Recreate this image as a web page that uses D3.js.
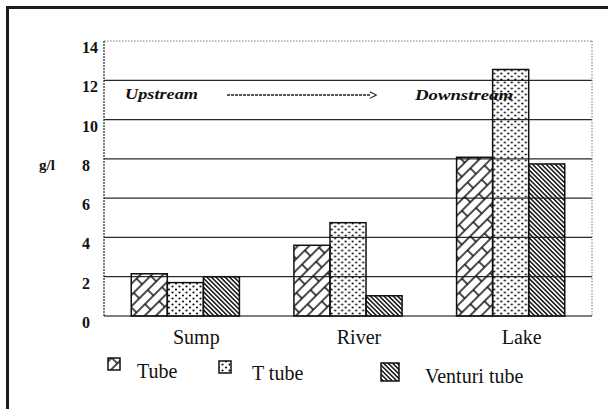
<!DOCTYPE html>
<html>
<head>
<meta charset="utf-8">
<script src="https://cdn.jsdelivr.net/npm/d3@7"></script>
<style>
  html, body { margin: 0; padding: 0; background: #fff; }
  svg { display: block; }
  text { font-family: "Liberation Serif", "Times New Roman", serif; fill: #111; }
  text.bold { font-weight: bold; }
</style>
</head>
<body>
<svg id="chart" width="608" height="409"></svg>
<script>
// Sediment concentration (g/l) by sampling site and sampler type
const categories = ["Sump", "River", "Lake"];
const seriesNames = ["Tube", "T tube", "Venturi tube"];
const tubeValues = [2.15, 3.6, 8.08];
const tTubeValues = [1.7, 4.75, 12.55];
const venturiValues = [2.0, 1.03, 7.74];
const yTicks = [0, 2, 4, 6, 8, 10, 12, 14];
const yLabel = "g/l";

const seriesValues = [tubeValues, tTubeValues, venturiValues];
const patternIds = ["pat-brick", "pat-dots", "pat-hatch"];

const svg = d3.select("#chart");
const plot = { left: 104, right: 592, top: 41, bottom: 316 };

// Fill patterns
const defs = svg.append("defs");
defs.append("pattern")
  .attr("id", "pat-brick").attr("patternUnits", "userSpaceOnUse")
  .attr("width", 24).attr("height", 16)
  .attr("patternTransform", "rotate(-45)")
  .append("path")
  .attr("d", "M0,4H24M0,12H24M6,4V12M18,12V16M18,0V4")
  .attr("stroke", "#111").attr("stroke-width", 1.5).attr("fill", "none");

const dots = defs.append("pattern")
  .attr("id", "pat-dots").attr("patternUnits", "userSpaceOnUse")
  .attr("width", 7).attr("height", 6);
dots.append("circle").attr("cx", 2).attr("cy", 1.5).attr("r", 1.1).attr("fill", "#111");
dots.append("circle").attr("cx", 5.5).attr("cy", 4.5).attr("r", 1.1).attr("fill", "#111");

defs.append("pattern")
  .attr("id", "pat-hatch").attr("patternUnits", "userSpaceOnUse")
  .attr("width", 3.2).attr("height", 10)
  .attr("patternTransform", "rotate(-45)")
  .append("line")
  .attr("x1", 1.6).attr("x2", 1.6).attr("y1", 0).attr("y2", 10)
  .attr("stroke", "#111").attr("stroke-width", 1.5);

// Outer frame (top and left edges)
svg.append("path")
  .attr("d", "M7.5,409V7.5H608")
  .attr("fill", "none").attr("stroke", "#1c1c1c").attr("stroke-width", 3);

// Scales
const y = d3.scaleLinear().domain([0, 14]).range([plot.bottom, plot.top]);
const x0 = d3.scaleBand().domain(categories).range([plot.left, plot.right]).padding(0);
const groupWidth = x0.bandwidth() * 0.665;
const x1 = d3.scaleBand().domain(seriesNames)
  .range([(x0.bandwidth() - groupWidth) / 2, (x0.bandwidth() + groupWidth) / 2]).padding(0);

// Gridlines
svg.append("g").selectAll("line")
  .data(yTicks.filter(t => t > 0 && t < 14))
  .join("line")
  .attr("x1", plot.left).attr("x2", plot.right)
  .attr("y1", d => y(d)).attr("y2", d => y(d))
  .attr("stroke", "#2a2a2a").attr("stroke-width", 1.2);

// Plot border: dotted top and right, solid baseline, dotted left axis
svg.append("line")
  .attr("x1", plot.left).attr("x2", plot.right).attr("y1", y(14)).attr("y2", y(14))
  .attr("stroke", "#777").attr("stroke-width", 1).attr("stroke-dasharray", "1.5,1.5");
svg.append("line")
  .attr("x1", plot.right).attr("x2", plot.right).attr("y1", y(14)).attr("y2", y(0))
  .attr("stroke", "#777").attr("stroke-width", 1).attr("stroke-dasharray", "1.5,1.5");
svg.append("line")
  .attr("x1", plot.left).attr("x2", plot.right).attr("y1", y(0)).attr("y2", y(0))
  .attr("stroke", "#555").attr("stroke-width", 1.5);
svg.append("line")
  .attr("x1", plot.left).attr("x2", plot.left).attr("y1", y(14)).attr("y2", y(0))
  .attr("stroke", "#333").attr("stroke-width", 1.3).attr("stroke-dasharray", "2,1");

// Y tick labels (sit just below each gridline)
svg.append("g").selectAll("text")
  .data(yTicks)
  .join("text")
  .attr("class", "bold")
  .attr("x", 82).attr("y", d => y(d) + 12)
  .attr("font-size", 16)
  .text(d => d);

// Y axis title
svg.append("text")
  .attr("class", "bold")
  .attr("x", 39).attr("y", 170)
  .attr("font-size", 15)
  .text(yLabel);

// Bars
const groups = svg.append("g").selectAll("g")
  .data(categories)
  .join("g")
  .attr("transform", d => `translate(${x0(d)},0)`);

groups.selectAll("rect")
  .data((c, ci) => seriesNames.map((s, si) => ({ s, si, v: seriesValues[si][ci] })))
  .join("rect")
  .attr("x", d => x1(d.s))
  .attr("width", x1.bandwidth())
  .attr("y", d => y(d.v))
  .attr("height", d => y(0) - y(d.v))
  .attr("fill", d => `url(#${patternIds[d.si]})`)
  .attr("stroke", "#111").attr("stroke-width", 1.5);

// Category labels
svg.append("g").selectAll("text")
  .data(categories)
  .join("text")
  .attr("x", d => x0(d) + x0.bandwidth() / 2 + 11)
  .attr("y", 344)
  .attr("text-anchor", "middle")
  .attr("font-size", 20)
  .text(d => d);

// Flow direction annotation
svg.append("text")
  .attr("class", "bold")
  .attr("x", 125).attr("y", 99)
  .attr("font-size", 15).attr("font-style", "italic")
  .attr("textLength", 73).attr("lengthAdjust", "spacingAndGlyphs")
  .text("Upstream");
svg.append("line")
  .attr("x1", 227).attr("x2", 371).attr("y1", 95).attr("y2", 95)
  .attr("stroke", "#222").attr("stroke-width", 1.6).attr("stroke-dasharray", "3,1");
svg.append("text")
  .attr("class", "bold")
  .attr("x", 369).attr("y", 100)
  .attr("font-size", 15)
  .text(">");
svg.append("text")
  .attr("class", "bold")
  .attr("x", 415).attr("y", 100)
  .attr("font-size", 15).attr("font-style", "italic")
  .attr("textLength", 98).attr("lengthAdjust", "spacingAndGlyphs")
  .text("Downstream");

// Legend
const legendItems = [
  { name: seriesNames[0], pat: patternIds[0], sx: 108, sy: 358, size: 12, tx: 137, ty: 378 },
  { name: seriesNames[1], pat: patternIds[1], sx: 219, sy: 361, size: 12, tx: 252, ty: 380 },
  { name: seriesNames[2], pat: patternIds[2], sx: 381, sy: 363, size: 18, tx: 425, ty: 383 }
];
const legend = svg.append("g").selectAll("g").data(legendItems).join("g");
legend.append("rect")
  .attr("x", d => d.sx).attr("y", d => d.sy)
  .attr("width", d => d.size).attr("height", d => d.size)
  .attr("fill", d => `url(#${d.pat})`)
  .attr("stroke", "#111").attr("stroke-width", 1.5);
legend.append("text")
  .attr("x", d => d.tx).attr("y", d => d.ty)
  .attr("font-size", 20)
  .text(d => d.name);
</script>
</body>
</html>
